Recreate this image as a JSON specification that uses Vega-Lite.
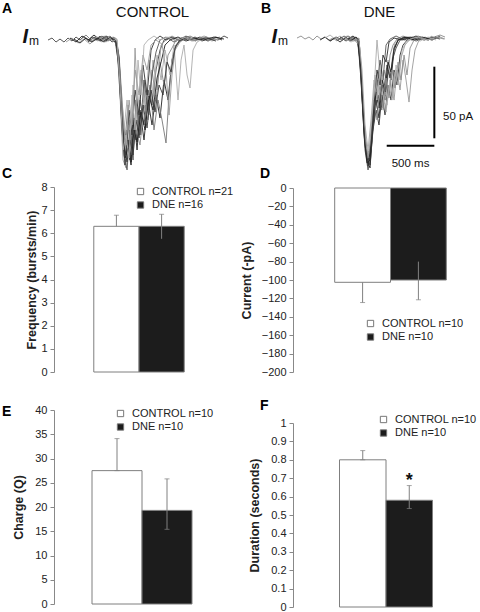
{
"$schema": "https://vega.github.io/schema/vega-lite/v6.json",
"padding": {"left": 2, "top": 2, "right": 0, "bottom": 0},
"config": {"view": {"stroke": null}, "font": "Liberation Sans",
  "axis": {"labelFont": "Liberation Sans", "labelFontSize": 11, "labelColor": "#222", "titleFont": "Liberation Sans", "titleFontSize": 12.5, "titleFontWeight": "bold", "titleColor": "#222", "tickColor": "#888", "domainColor": "#888", "tickSize": 4, "labelPadding": 3, "grid": false, "labelOverlap": false, "labelBound": false, "labelFlush": false},
  "legend": {"orient": "none", "title": null, "symbolType": "square", "symbolSize": 40, "symbolStrokeColor": "#777", "symbolStrokeWidth": 1, "labelFont": "Liberation Sans", "labelFontSize": 11, "labelColor": "#222", "labelOffset": 6, "rowPadding": 1.5, "padding": 0},
  "title": {"font": "Liberation Sans", "fontSize": 14, "fontWeight": "bold", "color": "#000", "anchor": "start", "frame": "group", "baseline": "alphabetic"}
},
"datasets": {
"traceA": [
{"tr":"a1","t":0,"i":0},{"tr":"a1","t":42,"i":1.4},{"tr":"a1","t":84,"i":-1.4},{"tr":"a1","t":126,"i":0.7},{"tr":"a1","t":168,"i":-1.4},{"tr":"a1","t":210,"i":1.4},{"tr":"a1","t":252,"i":-0.7},{"tr":"a1","t":294,"i":2.1},{"tr":"a1","t":336,"i":0},{"tr":"a1","t":378,"i":2.8},{"tr":"a1","t":420,"i":-0.7},{"tr":"a1","t":462,"i":2.1},{"tr":"a1","t":504,"i":0},{"tr":"a1","t":546,"i":2.8},{"tr":"a1","t":588,"i":-0.7},{"tr":"a1","t":630,"i":1.4},{"tr":"a1","t":672,"i":-1.4},{"tr":"a1","t":704,"i":0},{"tr":"a1","t":735,"i":-14},{"tr":"a1","t":767,"i":-48.9},{"tr":"a1","t":798,"i":-76.8},{"tr":"a1","t":830,"i":-62.8},{"tr":"a1","t":861,"i":-83.8},{"tr":"a1","t":893,"i":-55.8},{"tr":"a1","t":924,"i":-69.8},{"tr":"a1","t":966,"i":-41.9},{"tr":"a1","t":1008,"i":-59.3},{"tr":"a1","t":1050,"i":-34.9},{"tr":"a1","t":1092,"i":-45.4},{"tr":"a1","t":1134,"i":-20.9},{"tr":"a1","t":1176,"i":-7},{"tr":"a1","t":1218,"i":0},{"tr":"a1","t":1281,"i":2.1},{"tr":"a1","t":1344,"i":-0.7},{"tr":"a1","t":1407,"i":1.4},{"tr":"a1","t":1470,"i":0},{"tr":"a1","t":1544,"i":2.1},{"tr":"a1","t":1617,"i":-0.7},{"tr":"a1","t":1701,"i":1.4},{"tr":"a1","t":1785,"i":0},{"tr":"a1","t":1848,"i":2.8},{"tr":"a1","t":1890,"i":1.4},
{"tr":"a2","t":189,"i":-1.4},{"tr":"a2","t":252,"i":1.4},{"tr":"a2","t":315,"i":-2.1},{"tr":"a2","t":378,"i":0.7},{"tr":"a2","t":441,"i":-2.8},{"tr":"a2","t":504,"i":1.4},{"tr":"a2","t":567,"i":-1.4},{"tr":"a2","t":630,"i":2.1},{"tr":"a2","t":683,"i":0},{"tr":"a2","t":725,"i":-3.5},{"tr":"a2","t":756,"i":-38.4},{"tr":"a2","t":788,"i":-83.8},{"tr":"a2","t":819,"i":-89.3},{"tr":"a2","t":851,"i":-55.8},{"tr":"a2","t":882,"i":-76.8},{"tr":"a2","t":914,"i":-5.6},{"tr":"a2","t":945,"i":-48.9},{"tr":"a2","t":977,"i":-66.3},{"tr":"a2","t":1019,"i":-27.9},{"tr":"a2","t":1061,"i":-52.4},{"tr":"a2","t":1103,"i":-14},{"tr":"a2","t":1145,"i":-34.9},{"tr":"a2","t":1187,"i":-3.5},{"tr":"a2","t":1239,"i":0},{"tr":"a2","t":1302,"i":2.8},{"tr":"a2","t":1386,"i":0},{"tr":"a2","t":1470,"i":2.1},{"tr":"a2","t":1554,"i":0},{"tr":"a2","t":1638,"i":2.8},{"tr":"a2","t":1722,"i":0.7},{"tr":"a2","t":1806,"i":2.1},
{"tr":"a3","t":231,"i":1.4},{"tr":"a3","t":294,"i":-1.4},{"tr":"a3","t":357,"i":2.8},{"tr":"a3","t":420,"i":0},{"tr":"a3","t":483,"i":3.5},{"tr":"a3","t":546,"i":0},{"tr":"a3","t":609,"i":2.8},{"tr":"a3","t":672,"i":0.7},{"tr":"a3","t":714,"i":-1.4},{"tr":"a3","t":746,"i":-20.9},{"tr":"a3","t":777,"i":-62.8},{"tr":"a3","t":809,"i":-87.3},{"tr":"a3","t":840,"i":-69.8},{"tr":"a3","t":872,"i":-85.2},{"tr":"a3","t":903,"i":-54.4},{"tr":"a3","t":935,"i":-76.8},{"tr":"a3","t":966,"i":-48.9},{"tr":"a3","t":1008,"i":-69.8},{"tr":"a3","t":1050,"i":-41.9},{"tr":"a3","t":1092,"i":-59.3},{"tr":"a3","t":1134,"i":-38.4},{"tr":"a3","t":1176,"i":-54.4},{"tr":"a3","t":1218,"i":-27.9},{"tr":"a3","t":1260,"i":-41.9},{"tr":"a3","t":1302,"i":-14},{"tr":"a3","t":1344,"i":-3.5},{"tr":"a3","t":1386,"i":0},{"tr":"a3","t":1449,"i":2.8},{"tr":"a3","t":1512,"i":0},{"tr":"a3","t":1596,"i":2.1},{"tr":"a3","t":1680,"i":-0.7},{"tr":"a3","t":1764,"i":2.1},{"tr":"a3","t":1827,"i":0},
{"tr":"a4","t":336,"i":0},{"tr":"a4","t":399,"i":3.5},{"tr":"a4","t":462,"i":-0.7},{"tr":"a4","t":525,"i":2.1},{"tr":"a4","t":588,"i":0},{"tr":"a4","t":651,"i":2.8},{"tr":"a4","t":704,"i":-0.7},{"tr":"a4","t":746,"i":-10.5},{"tr":"a4","t":777,"i":-41.9},{"tr":"a4","t":809,"i":-69.8},{"tr":"a4","t":840,"i":-45.4},{"tr":"a4","t":872,"i":-73.3},{"tr":"a4","t":903,"i":-38.4},{"tr":"a4","t":945,"i":-59.3},{"tr":"a4","t":987,"i":-24.4},{"tr":"a4","t":1029,"i":-48.9},{"tr":"a4","t":1071,"i":-31.4},{"tr":"a4","t":1113,"i":-62.8},{"tr":"a4","t":1155,"i":-41.9},{"tr":"a4","t":1197,"i":-55.8},{"tr":"a4","t":1239,"i":-71.9},{"tr":"a4","t":1271,"i":-38.4},{"tr":"a4","t":1302,"i":-14},{"tr":"a4","t":1344,"i":-3.5},{"tr":"a4","t":1407,"i":0},{"tr":"a4","t":1491,"i":2.8},{"tr":"a4","t":1575,"i":0},{"tr":"a4","t":1659,"i":2.1},{"tr":"a4","t":1743,"i":0},
{"tr":"a5","t":378,"i":1.4},{"tr":"a5","t":441,"i":-1.4},{"tr":"a5","t":504,"i":2.1},{"tr":"a5","t":567,"i":-0.7},{"tr":"a5","t":630,"i":1.4},{"tr":"a5","t":693,"i":0},{"tr":"a5","t":735,"i":-5.6},{"tr":"a5","t":767,"i":-34.9},{"tr":"a5","t":798,"i":-62.8},{"tr":"a5","t":830,"i":-41.9},{"tr":"a5","t":861,"i":-73.3},{"tr":"a5","t":893,"i":-31.4},{"tr":"a5","t":935,"i":-55.8},{"tr":"a5","t":977,"i":-20.9},{"tr":"a5","t":1019,"i":-45.4},{"tr":"a5","t":1061,"i":-14},{"tr":"a5","t":1103,"i":-38.4},{"tr":"a5","t":1145,"i":-10.5},{"tr":"a5","t":1187,"i":-27.9},{"tr":"a5","t":1229,"i":-7},{"tr":"a5","t":1281,"i":-24.4},{"tr":"a5","t":1323,"i":-3.5},{"tr":"a5","t":1365,"i":-41.9},{"tr":"a5","t":1397,"i":-14},{"tr":"a5","t":1428,"i":-3.5},{"tr":"a5","t":1460,"i":-24.4},{"tr":"a5","t":1491,"i":-33.5},{"tr":"a5","t":1523,"i":-7},{"tr":"a5","t":1565,"i":-1.4},{"tr":"a5","t":1638,"i":1.4},{"tr":"a5","t":1722,"i":-0.7},{"tr":"a5","t":1806,"i":1.4},
{"tr":"a6","t":420,"i":-1.4},{"tr":"a6","t":483,"i":2.1},{"tr":"a6","t":546,"i":-0.7},{"tr":"a6","t":609,"i":2.1},{"tr":"a6","t":672,"i":0},{"tr":"a6","t":725,"i":-2.1},{"tr":"a6","t":756,"i":-27.9},{"tr":"a6","t":788,"i":-69.8},{"tr":"a6","t":819,"i":-80.3},{"tr":"a6","t":851,"i":-48.9},{"tr":"a6","t":882,"i":-66.3},{"tr":"a6","t":914,"i":-34.9},{"tr":"a6","t":956,"i":-52.4},{"tr":"a6","t":998,"i":-17.5},{"tr":"a6","t":1040,"i":-38.4},{"tr":"a6","t":1082,"i":-7},{"tr":"a6","t":1124,"i":0},{"tr":"a6","t":1176,"i":2.8},{"tr":"a6","t":1239,"i":0},{"tr":"a6","t":1302,"i":2.1},{"tr":"a6","t":1386,"i":-0.7},{"tr":"a6","t":1470,"i":1.4},{"tr":"a6","t":1554,"i":-0.7},
{"tr":"a7","t":462,"i":2.1},{"tr":"a7","t":525,"i":-0.7},{"tr":"a7","t":588,"i":2.8},{"tr":"a7","t":651,"i":0},{"tr":"a7","t":714,"i":1.4},{"tr":"a7","t":746,"i":-17.5},{"tr":"a7","t":777,"i":-55.8},{"tr":"a7","t":809,"i":-76.8},{"tr":"a7","t":840,"i":-59.3},{"tr":"a7","t":882,"i":-80.3},{"tr":"a7","t":924,"i":-62.8},{"tr":"a7","t":966,"i":-73.3},{"tr":"a7","t":1008,"i":-45.4},{"tr":"a7","t":1050,"i":-55.8},{"tr":"a7","t":1092,"i":-20.9},{"tr":"a7","t":1134,"i":-41.9},{"tr":"a7","t":1176,"i":-15.4},{"tr":"a7","t":1218,"i":-31.4},{"tr":"a7","t":1260,"i":-10.5},{"tr":"a7","t":1302,"i":-5.6},{"tr":"a7","t":1344,"i":0},{"tr":"a7","t":1428,"i":2.1},{"tr":"a7","t":1512,"i":-0.7},{"tr":"a7","t":1596,"i":1.4},{"tr":"a7","t":1680,"i":0},{"tr":"a7","t":1764,"i":2.1},
{"tr":"a8","t":504,"i":0},{"tr":"a8","t":567,"i":2.8},{"tr":"a8","t":630,"i":-0.7},{"tr":"a8","t":693,"i":2.1},{"tr":"a8","t":735,"i":-8.4},{"tr":"a8","t":767,"i":-41.9},{"tr":"a8","t":798,"i":-80.3},{"tr":"a8","t":830,"i":-90.7},{"tr":"a8","t":861,"i":-62.8},{"tr":"a8","t":893,"i":-83.8},{"tr":"a8","t":924,"i":-41.9},{"tr":"a8","t":966,"i":-66.3},{"tr":"a8","t":1008,"i":-27.9},{"tr":"a8","t":1050,"i":-48.9},{"tr":"a8","t":1092,"i":-24.4},{"tr":"a8","t":1134,"i":-8.4},{"tr":"a8","t":1176,"i":0},{"tr":"a8","t":1239,"i":2.1},{"tr":"a8","t":1323,"i":-1.4},{"tr":"a8","t":1407,"i":1.4},
{"tr":"a9","t":273,"i":0.7},{"tr":"a9","t":336,"i":-2.1},{"tr":"a9","t":399,"i":1.4},{"tr":"a9","t":462,"i":-1.4},{"tr":"a9","t":525,"i":1.4},{"tr":"a9","t":588,"i":-1.4},{"tr":"a9","t":651,"i":1.4},{"tr":"a9","t":714,"i":-0.7},{"tr":"a9","t":746,"i":-12.6},{"tr":"a9","t":777,"i":-50.3},{"tr":"a9","t":809,"i":-82.4},{"tr":"a9","t":840,"i":-75.4},{"tr":"a9","t":872,"i":-87.3},{"tr":"a9","t":903,"i":-62.8},{"tr":"a9","t":935,"i":-71.2},{"tr":"a9","t":977,"i":-50.3},{"tr":"a9","t":1019,"i":-62.8},{"tr":"a9","t":1061,"i":-39.1},{"tr":"a9","t":1103,"i":-48.9},{"tr":"a9","t":1145,"i":-26.5},{"tr":"a9","t":1187,"i":-15.4},{"tr":"a9","t":1229,"i":-3.5},{"tr":"a9","t":1281,"i":0},{"tr":"a9","t":1365,"i":2.1},{"tr":"a9","t":1449,"i":-0.7},{"tr":"a9","t":1533,"i":1.4},{"tr":"a9","t":1638,"i":0},{"tr":"a9","t":1743,"i":2.1},{"tr":"a9","t":1848,"i":0.7},
{"tr":"a10","t":546,"i":1.4},{"tr":"a10","t":609,"i":-1.4},{"tr":"a10","t":672,"i":2.1},{"tr":"a10","t":725,"i":0},{"tr":"a10","t":756,"i":-24.4},{"tr":"a10","t":788,"i":-59.3},{"tr":"a10","t":819,"i":-73.3},{"tr":"a10","t":851,"i":-41.9},{"tr":"a10","t":882,"i":-59.3},{"tr":"a10","t":914,"i":-20.9},{"tr":"a10","t":956,"i":-38.4},{"tr":"a10","t":998,"i":-10.5},{"tr":"a10","t":1040,"i":-20.9},{"tr":"a10","t":1082,"i":-3.5},{"tr":"a10","t":1134,"i":0},{"tr":"a10","t":1197,"i":-2.8},{"tr":"a10","t":1239,"i":-20.9},{"tr":"a10","t":1271,"i":-52.4},{"tr":"a10","t":1302,"i":-24.4},{"tr":"a10","t":1334,"i":-7},{"tr":"a10","t":1386,"i":-1.4},{"tr":"a10","t":1449,"i":1.4},{"tr":"a10","t":1533,"i":-0.7},{"tr":"a10","t":1617,"i":2.1},{"tr":"a10","t":1701,"i":0},
{"tr":"a11","t":588,"i":-0.7},{"tr":"a11","t":651,"i":2.1},{"tr":"a11","t":704,"i":0},{"tr":"a11","t":735,"i":-7},{"tr":"a11","t":767,"i":-45.4},{"tr":"a11","t":798,"i":-73.3},{"tr":"a11","t":830,"i":-85.2},{"tr":"a11","t":861,"i":-69.8},{"tr":"a11","t":893,"i":-80.3},{"tr":"a11","t":924,"i":-55.8},{"tr":"a11","t":956,"i":-68.4},{"tr":"a11","t":998,"i":-45.4},{"tr":"a11","t":1040,"i":-61.4},{"tr":"a11","t":1082,"i":-34.9},{"tr":"a11","t":1124,"i":-50.3},{"tr":"a11","t":1166,"i":-31.4},{"tr":"a11","t":1208,"i":-38.4},{"tr":"a11","t":1250,"i":-15.4},{"tr":"a11","t":1292,"i":-22.3},{"tr":"a11","t":1334,"i":-5.6},{"tr":"a11","t":1386,"i":0},{"tr":"a11","t":1470,"i":2.1},{"tr":"a11","t":1554,"i":0},{"tr":"a11","t":1659,"i":1.4},{"tr":"a11","t":1764,"i":-0.7},
{"tr":"a12","t":630,"i":2.1},{"tr":"a12","t":683,"i":-0.7},{"tr":"a12","t":725,"i":0.7},{"tr":"a12","t":756,"i":-31.4},{"tr":"a12","t":788,"i":-76.8},{"tr":"a12","t":819,"i":-66.3},{"tr":"a12","t":851,"i":-82.4},{"tr":"a12","t":882,"i":-38.4},{"tr":"a12","t":914,"i":-62.8},{"tr":"a12","t":945,"i":-14},{"tr":"a12","t":977,"i":-38.4},{"tr":"a12","t":1008,"i":-3.5},{"tr":"a12","t":1050,"i":0},{"tr":"a12","t":1113,"i":2.8},{"tr":"a12","t":1176,"i":0},{"tr":"a12","t":1260,"i":2.1},{"tr":"a12","t":1344,"i":-0.7},{"tr":"a12","t":1449,"i":2.1},{"tr":"a12","t":1554,"i":0}
],
"traceB": [
{"tr":"b1","t":42,"i":0},{"tr":"b1","t":84,"i":1.4},{"tr":"b1","t":126,"i":-0.7},{"tr":"b1","t":168,"i":0.7},{"tr":"b1","t":210,"i":-1.4},{"tr":"b1","t":252,"i":1.4},{"tr":"b1","t":294,"i":-0.7},{"tr":"b1","t":336,"i":0.7},{"tr":"b1","t":378,"i":-1.4},{"tr":"b1","t":420,"i":0},{"tr":"b1","t":462,"i":-2.1},{"tr":"b1","t":504,"i":0.7},{"tr":"b1","t":546,"i":-1.4},{"tr":"b1","t":588,"i":0},{"tr":"b1","t":630,"i":-2.1},{"tr":"b1","t":672,"i":-1.4},{"tr":"b1","t":704,"i":-15.4},{"tr":"b1","t":735,"i":-50.3},{"tr":"b1","t":767,"i":-78.2},{"tr":"b1","t":798,"i":-88.6},{"tr":"b1","t":830,"i":-71.2},{"tr":"b1","t":861,"i":-46.8},{"tr":"b1","t":893,"i":-29.3},{"tr":"b1","t":924,"i":-39.8},{"tr":"b1","t":956,"i":-22.3},{"tr":"b1","t":987,"i":-32.8},{"tr":"b1","t":1019,"i":-11.9},{"tr":"b1","t":1050,"i":-4.9},{"tr":"b1","t":1092,"i":-0.7},{"tr":"b1","t":1155,"i":1.4},{"tr":"b1","t":1229,"i":-0.7},{"tr":"b1","t":1313,"i":1.4},{"tr":"b1","t":1397,"i":-0.7},{"tr":"b1","t":1481,"i":0.7},{"tr":"b1","t":1544,"i":2.1},{"tr":"b1","t":1596,"i":0.7},
{"tr":"b2","t":284,"i":-1.4},{"tr":"b2","t":336,"i":0.7},{"tr":"b2","t":389,"i":-2.1},{"tr":"b2","t":441,"i":0},{"tr":"b2","t":494,"i":-2.8},{"tr":"b2","t":546,"i":0},{"tr":"b2","t":599,"i":-2.1},{"tr":"b2","t":651,"i":0},{"tr":"b2","t":683,"i":-2.8},{"tr":"b2","t":714,"i":-29.3},{"tr":"b2","t":746,"i":-64.2},{"tr":"b2","t":777,"i":-85.2},{"tr":"b2","t":809,"i":-90.7},{"tr":"b2","t":840,"i":-60.7},{"tr":"b2","t":872,"i":-43.3},{"tr":"b2","t":903,"i":-55.8},{"tr":"b2","t":935,"i":-32.8},{"tr":"b2","t":966,"i":-43.3},{"tr":"b2","t":998,"i":-22.3},{"tr":"b2","t":1029,"i":-29.3},{"tr":"b2","t":1061,"i":-8.4},{"tr":"b2","t":1103,"i":-1.4},{"tr":"b2","t":1166,"i":0.7},{"tr":"b2","t":1250,"i":-1.4},{"tr":"b2","t":1334,"i":0.7},{"tr":"b2","t":1418,"i":-1.4},{"tr":"b2","t":1502,"i":0.7},
{"tr":"b3","t":336,"i":0},{"tr":"b3","t":389,"i":2.1},{"tr":"b3","t":441,"i":-0.7},{"tr":"b3","t":494,"i":1.4},{"tr":"b3","t":546,"i":-1.4},{"tr":"b3","t":599,"i":0.7},{"tr":"b3","t":651,"i":-2.1},{"tr":"b3","t":693,"i":-4.9},{"tr":"b3","t":725,"i":-39.8},{"tr":"b3","t":756,"i":-71.2},{"tr":"b3","t":788,"i":-86.6},{"tr":"b3","t":819,"i":-64.2},{"tr":"b3","t":851,"i":-36.3},{"tr":"b3","t":882,"i":-1.4},{"tr":"b3","t":914,"i":-25.8},{"tr":"b3","t":945,"i":-50.3},{"tr":"b3","t":977,"i":-29.3},{"tr":"b3","t":1008,"i":-39.8},{"tr":"b3","t":1040,"i":-15.4},{"tr":"b3","t":1071,"i":-2.8},{"tr":"b3","t":1124,"i":0},{"tr":"b3","t":1208,"i":-2.1},{"tr":"b3","t":1292,"i":0.7},{"tr":"b3","t":1376,"i":-1.4},{"tr":"b3","t":1460,"i":1.4},
{"tr":"b4","t":389,"i":-2.1},{"tr":"b4","t":452,"i":0.7},{"tr":"b4","t":515,"i":-1.4},{"tr":"b4","t":578,"i":1.4},{"tr":"b4","t":641,"i":-1.4},{"tr":"b4","t":683,"i":-0.7},{"tr":"b4","t":714,"i":-22.3},{"tr":"b4","t":746,"i":-60.7},{"tr":"b4","t":777,"i":-83.8},{"tr":"b4","t":809,"i":-88.6},{"tr":"b4","t":840,"i":-64.2},{"tr":"b4","t":872,"i":-50.3},{"tr":"b4","t":903,"i":-60.7},{"tr":"b4","t":935,"i":-39.8},{"tr":"b4","t":966,"i":-53.7},{"tr":"b4","t":998,"i":-32.8},{"tr":"b4","t":1029,"i":-43.3},{"tr":"b4","t":1061,"i":-22.3},{"tr":"b4","t":1092,"i":-32.8},{"tr":"b4","t":1124,"i":-11.9},{"tr":"b4","t":1155,"i":-4.9},{"tr":"b4","t":1208,"i":-0.7},{"tr":"b4","t":1292,"i":1.4},{"tr":"b4","t":1376,"i":-1.4},{"tr":"b4","t":1460,"i":0.7},{"tr":"b4","t":1544,"i":-0.7},
{"tr":"b5","t":441,"i":0.7},{"tr":"b5","t":504,"i":-1.4},{"tr":"b5","t":567,"i":1.4},{"tr":"b5","t":630,"i":-0.7},{"tr":"b5","t":683,"i":0},{"tr":"b5","t":714,"i":-18.8},{"tr":"b5","t":746,"i":-57.2},{"tr":"b5","t":777,"i":-81.7},{"tr":"b5","t":809,"i":-76.8},{"tr":"b5","t":840,"i":-53.7},{"tr":"b5","t":872,"i":-36.3},{"tr":"b5","t":903,"i":-46.8},{"tr":"b5","t":935,"i":-25.8},{"tr":"b5","t":966,"i":-39.8},{"tr":"b5","t":998,"i":-15.4},{"tr":"b5","t":1029,"i":-32.8},{"tr":"b5","t":1061,"i":-43.3},{"tr":"b5","t":1092,"i":-22.3},{"tr":"b5","t":1124,"i":-36.3},{"tr":"b5","t":1155,"i":-15.4},{"tr":"b5","t":1187,"i":-29.3},{"tr":"b5","t":1218,"i":-44.7},{"tr":"b5","t":1250,"i":-22.3},{"tr":"b5","t":1281,"i":-8.4},{"tr":"b5","t":1323,"i":-1.4},{"tr":"b5","t":1386,"i":0.7},{"tr":"b5","t":1460,"i":-1.4},{"tr":"b5","t":1544,"i":0.7},{"tr":"b5","t":1596,"i":-0.7},
{"tr":"b6","t":473,"i":-1.4},{"tr":"b6","t":536,"i":1.4},{"tr":"b6","t":599,"i":-1.4},{"tr":"b6","t":662,"i":0.7},{"tr":"b6","t":693,"i":-2.8},{"tr":"b6","t":725,"i":-43.3},{"tr":"b6","t":756,"i":-78.2},{"tr":"b6","t":788,"i":-92.1},{"tr":"b6","t":819,"i":-78.2},{"tr":"b6","t":851,"i":-50.3},{"tr":"b6","t":882,"i":-32.8},{"tr":"b6","t":914,"i":-15.4},{"tr":"b6","t":945,"i":-29.3},{"tr":"b6","t":977,"i":-4.9},{"tr":"b6","t":1019,"i":-0.7},{"tr":"b6","t":1082,"i":1.4},{"tr":"b6","t":1166,"i":-1.4},{"tr":"b6","t":1250,"i":0.7},{"tr":"b6","t":1334,"i":-1.4},
{"tr":"b7","t":494,"i":0.7},{"tr":"b7","t":557,"i":-2.1},{"tr":"b7","t":620,"i":0.7},{"tr":"b7","t":672,"i":-1.4},{"tr":"b7","t":704,"i":-11.9},{"tr":"b7","t":735,"i":-46.8},{"tr":"b7","t":767,"i":-76.8},{"tr":"b7","t":798,"i":-85.2},{"tr":"b7","t":830,"i":-67.7},{"tr":"b7","t":861,"i":-51.7},{"tr":"b7","t":893,"i":-39.8},{"tr":"b7","t":924,"i":-50.3},{"tr":"b7","t":956,"i":-34.9},{"tr":"b7","t":987,"i":-18.8},{"tr":"b7","t":1019,"i":-27.9},{"tr":"b7","t":1050,"i":-14},{"tr":"b7","t":1082,"i":-7},{"tr":"b7","t":1124,"i":-1.4},{"tr":"b7","t":1208,"i":0.7},{"tr":"b7","t":1292,"i":-2.1},{"tr":"b7","t":1376,"i":0},{"tr":"b7","t":1460,"i":-1.4},{"tr":"b7","t":1544,"i":1.4},
{"tr":"b8","t":546,"i":0},{"tr":"b8","t":609,"i":-2.8},{"tr":"b8","t":662,"i":-0.7},{"tr":"b8","t":704,"i":-7},{"tr":"b8","t":735,"i":-43.3},{"tr":"b8","t":767,"i":-74.7},{"tr":"b8","t":798,"i":-83.8},{"tr":"b8","t":830,"i":-57.2},{"tr":"b8","t":861,"i":-25.8},{"tr":"b8","t":893,"i":-39.8},{"tr":"b8","t":924,"i":-18.8},{"tr":"b8","t":956,"i":-36.3},{"tr":"b8","t":987,"i":-46.8},{"tr":"b8","t":1019,"i":-29.3},{"tr":"b8","t":1050,"i":-41.9},{"tr":"b8","t":1082,"i":-18.8},{"tr":"b8","t":1113,"i":-29.3},{"tr":"b8","t":1145,"i":-8.4},{"tr":"b8","t":1187,"i":-2.8},{"tr":"b8","t":1250,"i":0},{"tr":"b8","t":1334,"i":-2.1},{"tr":"b8","t":1418,"i":0.7},{"tr":"b8","t":1502,"i":-1.4},
{"tr":"b9","t":578,"i":-0.7},{"tr":"b9","t":630,"i":1.4},{"tr":"b9","t":683,"i":-1.4},{"tr":"b9","t":714,"i":-25.8},{"tr":"b9","t":746,"i":-67.7},{"tr":"b9","t":777,"i":-87.3},{"tr":"b9","t":809,"i":-85.2},{"tr":"b9","t":840,"i":-55.8},{"tr":"b9","t":872,"i":-37.7},{"tr":"b9","t":903,"i":-48.9},{"tr":"b9","t":935,"i":-29.3},{"tr":"b9","t":966,"i":-37.7},{"tr":"b9","t":998,"i":-16.8},{"tr":"b9","t":1029,"i":-23.7},{"tr":"b9","t":1061,"i":-7},{"tr":"b9","t":1103,"i":-1.4},{"tr":"b9","t":1187,"i":0.7},{"tr":"b9","t":1271,"i":-1.4},{"tr":"b9","t":1355,"i":0.7},{"tr":"b9","t":1439,"i":-0.7},
{"tr":"b10","t":599,"i":0.7},{"tr":"b10","t":651,"i":-1.4},{"tr":"b10","t":693,"i":0},{"tr":"b10","t":725,"i":-32.8},{"tr":"b10","t":756,"i":-69.8},{"tr":"b10","t":788,"i":-83.8},{"tr":"b10","t":819,"i":-71.2},{"tr":"b10","t":851,"i":-43.3},{"tr":"b10","t":882,"i":-57.2},{"tr":"b10","t":914,"i":-34.9},{"tr":"b10","t":945,"i":-48.9},{"tr":"b10","t":977,"i":-27.9},{"tr":"b10","t":1008,"i":-41.9},{"tr":"b10","t":1040,"i":-22.3},{"tr":"b10","t":1071,"i":-34.9},{"tr":"b10","t":1103,"i":-16.8},{"tr":"b10","t":1134,"i":-29.3},{"tr":"b10","t":1166,"i":-11.9},{"tr":"b10","t":1197,"i":-25.8},{"tr":"b10","t":1229,"i":-7},{"tr":"b10","t":1271,"i":-1.4},{"tr":"b10","t":1334,"i":0.7},{"tr":"b10","t":1418,"i":-1.4},{"tr":"b10","t":1502,"i":0.7},{"tr":"b10","t":1586,"i":-0.7},
{"tr":"b11","t":620,"i":-1.4},{"tr":"b11","t":662,"i":0.7},{"tr":"b11","t":693,"i":-2.1},{"tr":"b11","t":725,"i":-36.3},{"tr":"b11","t":756,"i":-74.7},{"tr":"b11","t":788,"i":-89.3},{"tr":"b11","t":819,"i":-74.7},{"tr":"b11","t":851,"i":-46.8},{"tr":"b11","t":882,"i":-22.3},{"tr":"b11","t":914,"i":-32.8},{"tr":"b11","t":945,"i":-11.9},{"tr":"b11","t":977,"i":-16.8},{"tr":"b11","t":1008,"i":-2.8},{"tr":"b11","t":1061,"i":0},{"tr":"b11","t":1145,"i":-1.4},{"tr":"b11","t":1229,"i":0.7},{"tr":"b11","t":1313,"i":-1.4},
{"tr":"b12","t":651,"i":0},{"tr":"b12","t":693,"i":-2.1},{"tr":"b12","t":725,"i":-22.3},{"tr":"b12","t":756,"i":-60.7},{"tr":"b12","t":788,"i":-78.2},{"tr":"b12","t":819,"i":-57.2},{"tr":"b12","t":851,"i":-29.3},{"tr":"b12","t":882,"i":-43.3},{"tr":"b12","t":914,"i":-22.3},{"tr":"b12","t":945,"i":-39.8},{"tr":"b12","t":977,"i":-51.7},{"tr":"b12","t":1008,"i":-32.8},{"tr":"b12","t":1040,"i":-43.3},{"tr":"b12","t":1071,"i":-23.7},{"tr":"b12","t":1103,"i":-32.8},{"tr":"b12","t":1134,"i":-14},{"tr":"b12","t":1176,"i":-4.9},{"tr":"b12","t":1229,"i":-0.7},{"tr":"b12","t":1313,"i":0.7},{"tr":"b12","t":1397,"i":-1.4},{"tr":"b12","t":1481,"i":0}
],
"scalebar": [{"t1":1484,"t2":1484,"i1":-20,"i2":-70},{"t1":984,"t2":1484,"i1":-75.2,"i2":-75.2}],
"scaletext": [{"t":1575,"i":-54.9,"txt":"50 pA","kind":"amp"},{"t":1234,"i":-88,"txt":"500 ms","kind":"time"}],
"freq": [{"group":"CONTROL","label":"CONTROL n=21","mean":6.3,"lo":6.3,"hi":6.78},{"group":"DNE","label":"DNE n=16","mean":6.3,"lo":5.76,"hi":6.82}],
"curr": [{"group":"CONTROL","label":"CONTROL n=10","mean":-102.5,"lo":-124.5,"hi":-102.5},{"group":"DNE","label":"DNE n=10","mean":-100,"lo":-121.5,"hi":-80}],
"charge": [{"group":"CONTROL","label":"CONTROL n=10","mean":27.5,"lo":27.5,"hi":34.1},{"group":"DNE","label":"DNE n=10","mean":19.3,"lo":15.4,"hi":25.8}],
"dur": [{"group":"CONTROL","label":"CONTROL n=10","mean":0.8,"lo":0.8,"hi":0.85,"sig":""},{"group":"DNE","label":"DNE n=10","mean":0.58,"lo":0.535,"hi":0.66,"sig":"*"}]
},
"bounds": "flush",
"spacing": 239,
"resolve": {"scale": {"x": "independent", "y": "independent", "fill": "independent", "color": "independent"}, "legend": {"fill": "independent", "color": "independent"}},
"hconcat": [
{
"bounds": "flush",
"spacing": 38,
"resolve": {"scale": {"x": "independent", "y": "independent", "fill": "independent", "color": "independent"}, "legend": {"fill": "independent", "color": "independent"}},
"vconcat": [
{
"width": 180, "height": 124,
"title": {"text": "A", "dx": -52, "offset": -11},
"layer": [
{"data": {"name": "traceA"}, "mark": {"type": "line", "strokeWidth": 0.9},
 "encoding": {
  "x": {"field": "t", "type": "quantitative", "scale": {"domain": [63, 1953], "nice": false, "zero": false}, "axis": null},
  "y": {"field": "i", "type": "quantitative", "scale": {"domain": [-76.1, 10.5], "nice": false, "zero": false}, "axis": null},
  "color": {"field": "tr", "type": "nominal", "scale": {"domain": ["a1","a2","a3","a4","a5","a6","a7","a8","a9","a10","a11","a12"], "range": ["#444444","#9a9a9a","#222222","#777777","#aaaaaa","#333333","#888888","#555555","#1e1e1e","#999999","#3a3a3a","#b0b0b0"]}, "legend": null}}},
{"data": {"values": [{}]}, "mark": {"type": "text", "text": "CONTROL", "fontSize": 15, "align": "center", "baseline": "middle", "color": "#111"},
 "encoding": {"x": {"datum": 1097, "type": "quantitative"}, "y": {"datum": 19.5, "type": "quantitative"}}},
{"data": {"values": [{}]}, "mark": {"type": "text", "text": "I", "fontSize": 20, "fontStyle": "italic", "fontWeight": "bold", "align": "right", "baseline": "alphabetic", "dx": -20, "dy": 3, "color": "#111"},
 "encoding": {"x": {"datum": 0, "type": "quantitative"}, "y": {"datum": 0, "type": "quantitative"}}},
{"data": {"values": [{}]}, "mark": {"type": "text", "text": "m", "fontSize": 12, "align": "left", "baseline": "alphabetic", "dx": -19, "dy": 5, "color": "#111"},
 "encoding": {"x": {"datum": 0, "type": "quantitative"}, "y": {"datum": 0, "type": "quantitative"}}}
]
},
{
"width": 170, "height": 185,
"title": {"text": "C", "dx": -52, "offset": 0},
"data": {"name": "freq"},
"encoding": {"x": {"field": "group", "type": "nominal", "sort": ["CONTROL","DNE"], "axis": null, "scale": {"paddingInner": 0, "paddingOuter": 0.88}}},
"layer": [
{"mark": {"type": "bar", "stroke": "#7f7f7f", "strokeWidth": 1},
 "encoding": {"y": {"field": "mean", "type": "quantitative", "scale": {"domain": [0, 8], "nice": false}, "axis": {"title": "Frequency (bursts/min)", "values": [0,1,2,3,4,5,6,7,8], "titlePadding": 2}},
  "fill": {"field": "label", "type": "nominal", "scale": {"domain": ["CONTROL n=21","DNE n=16"], "range": ["#ffffff","#1c1c1c"]}, "legend": {"legendX": 81, "legendY": -1}}}},
{"mark": {"type": "rule", "color": "#808080"}, "encoding": {"y": {"field": "lo", "type": "quantitative", "axis": {"title": "Frequency (bursts/min)", "values": [0,1,2,3,4,5,6,7,8], "titlePadding": 2}}, "y2": {"field": "hi"}}},
{"mark": {"type": "tick", "color": "#808080", "size": 5, "thickness": 1}, "encoding": {"y": {"field": "hi", "type": "quantitative", "axis": {"title": "Frequency (bursts/min)", "values": [0,1,2,3,4,5,6,7,8], "titlePadding": 2}}}}
]
},
{
"width": 176, "height": 194,
"title": {"text": "E", "dx": -52, "offset": -15},
"data": {"name": "charge"},
"encoding": {"x": {"field": "group", "type": "nominal", "sort": ["CONTROL","DNE"], "axis": null, "scale": {"paddingInner": 0, "paddingOuter": 0.76}}},
"layer": [
{"mark": {"type": "bar", "stroke": "#7f7f7f", "strokeWidth": 1},
 "encoding": {"y": {"field": "mean", "type": "quantitative", "scale": {"domain": [0, 40], "nice": false}, "axis": {"title": "Charge (Q)", "values": [0,5,10,15,20,25,30,35,40], "titlePadding": 9}},
  "fill": {"field": "label", "type": "nominal", "scale": {"domain": ["CONTROL n=10","DNE n=10"], "range": ["#ffffff","#1c1c1c"]}, "legend": {"legendX": 61, "legendY": -2}}}},
{"mark": {"type": "rule", "color": "#808080"}, "encoding": {"y": {"field": "lo", "type": "quantitative", "axis": {"title": "Charge (Q)", "values": [0,5,10,15,20,25,30,35,40], "titlePadding": 9}}, "y2": {"field": "hi"}}},
{"mark": {"type": "tick", "color": "#808080", "size": 5, "thickness": 1}, "encoding": {"y": {"field": "hi", "type": "quantitative", "axis": {"title": "Charge (Q)", "values": [0,5,10,15,20,25,30,35,40], "titlePadding": 9}}}},
{"mark": {"type": "tick", "color": "#808080", "size": 5, "thickness": 1}, "encoding": {"y": {"field": "lo", "type": "quantitative", "axis": {"title": "Charge (Q)", "values": [0,5,10,15,20,25,30,35,40], "titlePadding": 9}}}}
]
}
]
},
{
"bounds": "flush",
"spacing": 51,
"resolve": {"scale": {"x": "independent", "y": "independent", "fill": "independent", "color": "independent"}, "legend": {"fill": "independent", "color": "independent"}},
"vconcat": [
{
"width": 160, "height": 112,
"title": {"text": "B", "dx": -32, "offset": -11},
"layer": [
{"data": {"name": "traceB"}, "mark": {"type": "line", "strokeWidth": 0.9},
 "encoding": {
  "x": {"field": "t", "type": "quantitative", "scale": {"domain": [0, 1680], "nice": false, "zero": false}, "axis": null},
  "y": {"field": "i", "type": "quantitative", "scale": {"domain": [-69.1, 9.1], "nice": false, "zero": false}, "axis": null},
  "color": {"field": "tr", "type": "nominal", "scale": {"domain": ["b1","b2","b3","b4","b5","b6","b7","b8","b9","b10","b11","b12"], "range": ["#8a8a8a","#222222","#aaaaaa","#333333","#9a9a9a","#555555","#444444","#b0b0b0","#1e1e1e","#8f8f8f","#2a2a2a","#a5a5a5"]}, "legend": null}}},
{"data": {"name": "scalebar"}, "mark": {"type": "rule", "color": "#000", "strokeWidth": 2},
 "encoding": {"x": {"field": "t1", "type": "quantitative"}, "x2": {"field": "t2"}, "y": {"field": "i1", "type": "quantitative"}, "y2": {"field": "i2"}}},
{"data": {"name": "scaletext"}, "transform": [{"filter": "datum.kind == 'amp'"}], "mark": {"type": "text", "fontSize": 11.5, "baseline": "middle", "align": "left", "color": "#111"},
 "encoding": {"x": {"field": "t", "type": "quantitative"}, "y": {"field": "i", "type": "quantitative"}, "text": {"field": "txt"}}},
{"data": {"name": "scaletext"}, "transform": [{"filter": "datum.kind == 'time'"}], "mark": {"type": "text", "fontSize": 11.5, "baseline": "middle", "align": "center", "color": "#111"},
 "encoding": {"x": {"field": "t", "type": "quantitative"}, "y": {"field": "i", "type": "quantitative"}, "text": {"field": "txt"}}},
{"data": {"values": [{}]}, "mark": {"type": "text", "text": "DNE", "fontSize": 15, "align": "center", "baseline": "middle", "color": "#111"},
 "encoding": {"x": {"datum": 908, "type": "quantitative"}, "y": {"datum": 18.1, "type": "quantitative"}}},
{"data": {"values": [{}]}, "mark": {"type": "text", "text": "I", "fontSize": 20, "fontStyle": "italic", "fontWeight": "bold", "align": "right", "baseline": "alphabetic", "dx": -20, "dy": 5, "color": "#111"},
 "encoding": {"x": {"datum": 42, "type": "quantitative"}, "y": {"datum": 0, "type": "quantitative"}}},
{"data": {"values": [{}]}, "mark": {"type": "text", "text": "m", "fontSize": 12, "align": "left", "baseline": "alphabetic", "dx": -19, "dy": 7, "color": "#111"},
 "encoding": {"x": {"datum": 42, "type": "quantitative"}, "y": {"datum": 0, "type": "quantitative"}}}
]
},
{
"width": 195, "height": 184,
"title": {"text": "D", "dx": -33, "offset": 1},
"data": {"name": "curr"},
"encoding": {"x": {"field": "group", "type": "nominal", "sort": ["CONTROL","DNE"], "axis": null, "scale": {"paddingInner": 0, "paddingOuter": 0.747}}},
"layer": [
{"mark": {"type": "bar", "stroke": "#7f7f7f", "strokeWidth": 1},
 "encoding": {"y": {"field": "mean", "type": "quantitative", "scale": {"domain": [-200, 0], "nice": false}, "axis": {"title": "Current (-pA)", "values": [-200,-180,-160,-140,-120,-100,-80,-60,-40,-20,0], "titlePadding": 8}},
  "fill": {"field": "label", "type": "nominal", "scale": {"domain": ["CONTROL n=10","DNE n=10"], "range": ["#ffffff","#1c1c1c"]}, "legend": {"legendX": 72, "legendY": 130}}}},
{"mark": {"type": "rule", "color": "#808080"}, "encoding": {"y": {"field": "lo", "type": "quantitative", "axis": {"title": "Current (-pA)", "values": [-200,-180,-160,-140,-120,-100,-80,-60,-40,-20,0], "titlePadding": 8}}, "y2": {"field": "hi"}}},
{"mark": {"type": "tick", "color": "#808080", "size": 5, "thickness": 1}, "encoding": {"y": {"field": "lo", "type": "quantitative", "axis": {"title": "Current (-pA)", "values": [-200,-180,-160,-140,-120,-100,-80,-60,-40,-20,0], "titlePadding": 8}}}}
]
},
{
"width": 186, "height": 184,
"title": {"text": "F", "dx": -33, "offset": 1.5},
"data": {"name": "dur"},
"encoding": {"x": {"field": "group", "type": "nominal", "sort": ["CONTROL","DNE"], "axis": null, "scale": {"paddingInner": 0, "paddingOuter": 1.15}}},
"layer": [
{"mark": {"type": "bar", "stroke": "#7f7f7f", "strokeWidth": 1},
 "encoding": {"y": {"field": "mean", "type": "quantitative", "scale": {"domain": [0, 1], "nice": false}, "axis": {"title": "Duration (seconds)", "values": [0,0.1,0.2,0.3,0.4,0.5,0.6,0.7,0.8,0.9,1], "format": ".1~f", "titlePadding": 9}},
  "fill": {"field": "label", "type": "nominal", "scale": {"domain": ["CONTROL n=10","DNE n=10"], "range": ["#ffffff","#1c1c1c"]}, "legend": {"legendX": 85, "legendY": -9}}}},
{"mark": {"type": "rule", "color": "#808080"}, "encoding": {"y": {"field": "lo", "type": "quantitative", "axis": {"title": "Duration (seconds)", "values": [0,0.1,0.2,0.3,0.4,0.5,0.6,0.7,0.8,0.9,1], "format": ".1~f", "titlePadding": 9}}, "y2": {"field": "hi"}}},
{"mark": {"type": "tick", "color": "#808080", "size": 5, "thickness": 1}, "encoding": {"y": {"field": "hi", "type": "quantitative", "axis": {"title": "Duration (seconds)", "values": [0,0.1,0.2,0.3,0.4,0.5,0.6,0.7,0.8,0.9,1], "format": ".1~f", "titlePadding": 9}}}},
{"mark": {"type": "tick", "color": "#808080", "size": 5, "thickness": 1}, "encoding": {"y": {"field": "lo", "type": "quantitative", "axis": {"title": "Duration (seconds)", "values": [0,0.1,0.2,0.3,0.4,0.5,0.6,0.7,0.8,0.9,1], "format": ".1~f", "titlePadding": 9}}}},
{"transform": [{"filter": "datum.sig == '*'"}], "mark": {"type": "text", "fontSize": 18, "fontWeight": "bold", "baseline": "alphabetic", "align": "center", "color": "#111"},
 "encoding": {"y": {"field": "hi", "type": "quantitative", "axis": {"title": "Duration (seconds)", "values": [0,0.1,0.2,0.3,0.4,0.5,0.6,0.7,0.8,0.9,1], "format": ".1~f", "titlePadding": 9}}, "text": {"field": "sig"}}}
]
}
]
}
]
}
